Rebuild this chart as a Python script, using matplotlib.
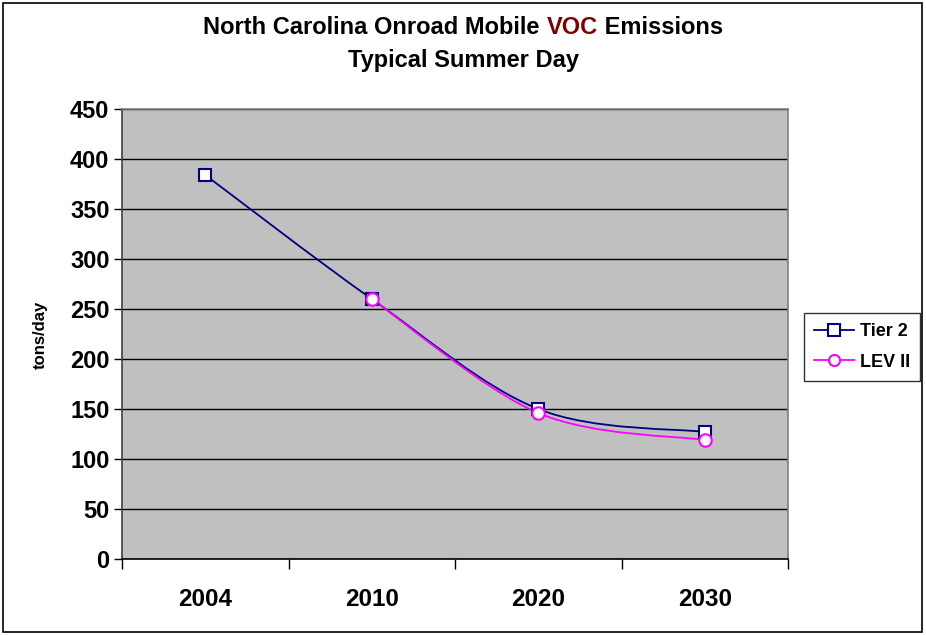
import numpy as np
import matplotlib
matplotlib.use("Agg")
import matplotlib.pyplot as plt
from matplotlib.path import Path
from matplotlib.patches import PathPatch, Rectangle
from matplotlib.lines import Line2D

plt.rcParams['font.family'] = ['Liberation Sans', 'DejaVu Sans']
plt.rcParams['font.weight'] = 'bold'

years = ["2004", "2010", "2020", "2030"]
tier2 = [384, 260, 150, 127]
lev2 = [None, 260, 146, 119]
y_ticks = [0, 50, 100, 150, 200, 250, 300, 350, 400, 450]

NAVY = "#000080"
MAGENTA = "#FF00FF"
DARKRED = "#800000"


def smooth_path(xs, ys):
    """Cubic Bezier path through the points (Catmull-Rom style smoothing)."""
    pts = np.column_stack([xs, ys]).astype(float)
    n = len(pts)
    verts = [pts[0]]
    codes = [Path.MOVETO]
    for i in range(n - 1):
        p0 = pts[i - 1] if i > 0 else pts[i]
        p1 = pts[i]
        p2 = pts[i + 1]
        p3 = pts[i + 2] if i + 2 < n else pts[i + 1]
        c1 = p1 + (p2 - p0) / 6.0
        c2 = p2 - (p3 - p1) / 6.0
        verts += [c1, c2, p2]
        codes += [Path.CURVE4] * 3
    return Path(verts, codes)


fig = plt.figure(figsize=(9.26, 6.35), dpi=100)
W, H = 926, 635
ax = fig.add_axes([122 / W, (H - 559) / H, 666 / W, 450 / H])
ax.set_facecolor("#C0C0C0")

# outer chart frame
fig.patches.append(Rectangle((3 / W, 3 / H), 919 / W, 629 / H, transform=fig.transFigure,
                             fill=False, edgecolor="black", linewidth=1.2))

x = np.arange(len(years))
ax.set_xlim(-0.5, len(years) - 0.5)
ax.set_ylim(0, 450)

# Tier 2 series
tx = x
ty = np.array(tier2, dtype=float)
ax.add_patch(PathPatch(smooth_path(tx, ty), fill=False, edgecolor=NAVY, linewidth=1.3, zorder=3))
ax.plot(tx, ty, linestyle="none", marker="s", markersize=8.5, markerfacecolor="white",
        markeredgecolor=NAVY, markeredgewidth=1.5, zorder=4)

# LEV II series
lx = np.array([xi for xi, v in zip(x, lev2) if v is not None])
ly = np.array([v for v in lev2 if v is not None], dtype=float)
ax.add_patch(PathPatch(smooth_path(lx, ly), fill=False, edgecolor=MAGENTA, linewidth=1.3, zorder=3))
ax.plot(lx, ly, linestyle="none", marker="o", markersize=9, markerfacecolor="white",
        markeredgecolor=MAGENTA, markeredgewidth=1.5, zorder=5)

# axes styling
ax.set_yticks(y_ticks)
ax.set_yticklabels([str(t) for t in y_ticks], fontsize=17, fontweight="bold")
ax.yaxis.grid(True, color="black", linewidth=1.0)
ax.set_axisbelow(True)
ax.set_xticks(x)
ax.set_xticklabels(years, fontsize=17.5, fontweight="bold")
ax.tick_params(axis="x", length=0, pad=21)
ax.set_xticks(np.arange(-0.5, len(years), 1.0), minor=True)
ax.tick_params(axis="x", which="minor", length=7, width=1, direction="out")
ax.tick_params(axis="y", length=6, width=1, direction="out", pad=3)
for side in ("top", "right"):
    ax.spines[side].set_color("#808080")
    ax.spines[side].set_linewidth(1.2)
ax.spines["left"].set_color("#404040")
ax.spines["bottom"].set_color("black")
ax.spines["left"].set_linewidth(1.2)
ax.spines["bottom"].set_linewidth(1.2)

fig.text(40 / W, 1 - 335 / H, "tons/day", rotation=90, ha="center", va="center",
         fontsize=12, fontweight="bold")

# legend
handles = [
    Line2D([], [], color=NAVY, linewidth=1.3, marker="s", markersize=8, markerfacecolor="white",
           markeredgecolor=NAVY, markeredgewidth=1.5),
    Line2D([], [], color=MAGENTA, linewidth=1.3, marker="o", markersize=8, markerfacecolor="white",
           markeredgecolor=MAGENTA, markeredgewidth=1.5),
]
leg = fig.legend(handles, ["Tier 2", "LEV II"], loc="center", bbox_to_anchor=(862 / W, 1 - 347 / H),
                 frameon=True, fancybox=False, edgecolor="black",
                 prop={"weight": "bold", "size": 13}, handlelength=2.2, handletextpad=0.3,
                 borderpad=0.55, labelspacing=0.75, borderaxespad=0)
leg.get_frame().set_linewidth(1.0)

# two-line title with the pollutant name highlighted
fig.canvas.draw()
renderer = fig.canvas.get_renderer()
parts = [("North Carolina Onroad Mobile ", "black"), ("VOC", DARKRED), (" Emissions", "black")]
title_size = 17
texts = []
for s, c in parts:
    t = fig.text(0, 1 - 27 / H, s, color=c, fontsize=title_size, fontweight="bold",
                 ha="left", va="center")
    texts.append(t)
widths = [t.get_window_extent(renderer).width for t in texts]
total = sum(widths)
xstart = 463 - total / 2
for t, w in zip(texts, widths):
    t.set_x(xstart / W)
    xstart += w
fig.text(463 / W, 1 - 61 / H, "Typical Summer Day", ha="center", va="center",
         fontsize=title_size, fontweight="bold")

fig.savefig("out.png", dpi=100)
